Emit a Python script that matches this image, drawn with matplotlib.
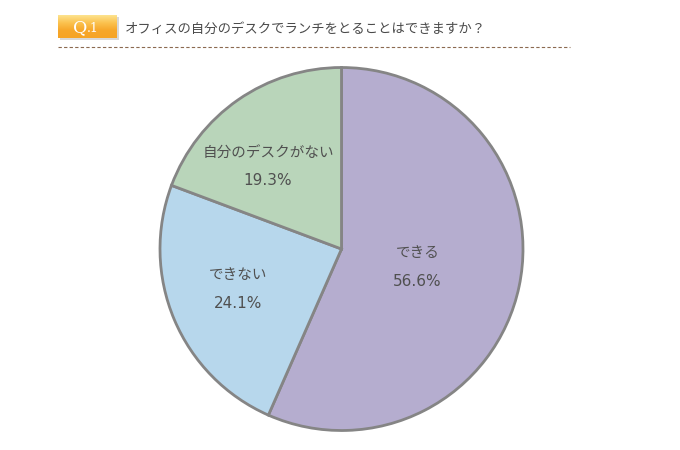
import numpy as np
import matplotlib
matplotlib.use("Agg")
import matplotlib.pyplot as plt
from matplotlib.colors import LinearSegmentedColormap

plt.rcParams['font.family'] = ['Noto Sans CJK JP', 'DejaVu Sans']

categories = ["できる", "できない", "自分のデスクがない"]
values = [56.6, 24.1, 19.3]
colors = ["#B5ADCF", "#B7D7EC", "#B9D5BA"]
title = "オフィスの自分のデスクでランチをとることはできますか？"

# label placement (distance from centre as fraction of radius, angle shift in degrees)
label_dist = [0.43, 0.61, 0.61]
label_shift = [-1.3, -1.8, 6.8]

W, H = 680, 450
fig = plt.figure(figsize=(W / 100, H / 100), dpi=100)
fig.patch.set_facecolor("white")

# pie axes
cx, cy, r = 341.5, 249, 181.5
ax = fig.add_axes([(cx - r) / W, 1 - (cy + r) / H, 2 * r / W, 2 * r / H])
wedges, _ = ax.pie(values, colors=colors, startangle=90, counterclock=False,
                   wedgeprops=dict(edgecolor="#858585", linewidth=2),
                   radius=1.0)
ax.set_xlim(-1, 1)
ax.set_ylim(-1, 1)
ax.set_aspect("equal")
ax.axis("off")

for w, lab, val, d, sft in zip(wedges, categories, values, label_dist, label_shift):
    ang = np.deg2rad((w.theta1 + w.theta2) / 2 + sft)
    x, y = d * np.cos(ang), d * np.sin(ang)
    ax.text(x, y + 0.075, lab, ha="center", va="center", fontsize=10.5, color="#505050")
    ax.text(x, y - 0.08, f"{val}%", ha="center", va="center", fontsize=11,
            color="#505050", family=["DejaVu Sans"])

# badge
bx0, bx1, by0, by1 = 58, 117, 15, 38
sh = fig.add_axes([(bx0 + 2) / W, 1 - (by1 + 2) / H, (bx1 - bx0) / W, (by1 - by0) / H])
sh.set_facecolor("#D8D8D8")
sh.set_xticks([]); sh.set_yticks([])
for s in sh.spines.values():
    s.set_visible(False)
bax = fig.add_axes([bx0 / W, 1 - by1 / H, (bx1 - bx0) / W, (by1 - by0) / H])
cmap = LinearSegmentedColormap.from_list("badge", ["#FDE38E", "#FBC24F", "#F7A72A", "#F6A425"])
grad = np.linspace(0, 1, 64).reshape(-1, 1)
bax.imshow(grad, aspect="auto", cmap=cmap, extent=[0, 1, 0, 1], origin="upper")
bax.set_xlim(0, 1); bax.set_ylim(0, 1)
bax.set_xticks([]); bax.set_yticks([])
for s in bax.spines.values():
    s.set_visible(False)
bax.text(0.49, 0.45, "Q", ha="right", va="center", fontsize=12.5, color="white",
         family=["DejaVu Serif"])
bax.text(0.49, 0.42, ".1", ha="left", va="center", fontsize=9, color="white",
         family=["DejaVu Serif"])

# title
fig.text(125 / W, 1 - 29 / H, title, ha="left", va="center", fontsize=9.6,
         color="#4A4A4A")

# dashed line
fig.add_artist(plt.Line2D([58 / W, 570 / W], [1 - 47 / H, 1 - 47 / H],
                          transform=fig.transFigure, color="#8B6A50",
                          linewidth=0.8, linestyle=(0, (3, 2))))

fig.savefig("out.png", dpi=100, facecolor="white")
